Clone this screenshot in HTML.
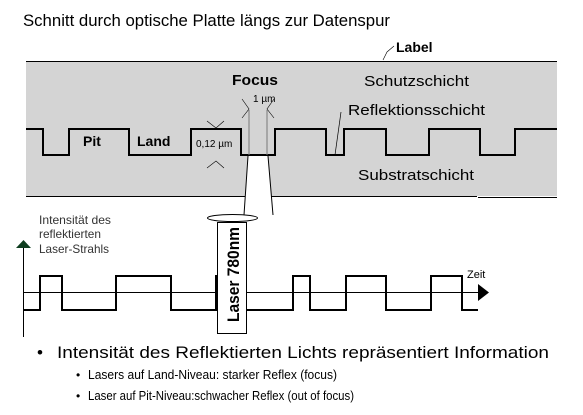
<!DOCTYPE html>
<html><head><meta charset="utf-8"><style>body{margin:0;background:#fff}svg{display:block}</style></head><body>
<svg width="583" height="415" viewBox="0 0 583 415" xmlns="http://www.w3.org/2000/svg" font-family="Liberation Sans, sans-serif">
<text x="23" y="26" font-size="17" textLength="367" lengthAdjust="spacingAndGlyphs">Schnitt durch optische Platte längs zur Datenspur</text>
<rect x="26" y="61" width="531" height="135" fill="#d4d4d4"/>
<line x1="26" y1="61.5" x2="557" y2="61.5" stroke="#000"/>
<line x1="26" y1="196.5" x2="477" y2="196.5" stroke="#000"/>
<line x1="478" y1="197.5" x2="557" y2="197.5" stroke="#000"/>
<text x="396" y="52" font-size="14" font-weight="bold">Label</text>
<path d="M383 60 L387 52 L394 46" stroke="#000" fill="none" stroke-width="0.6"/>
<text x="364" y="86" font-size="15" textLength="105" lengthAdjust="spacingAndGlyphs">Schutzschicht</text>
<text x="348" y="115" font-size="15" textLength="137" lengthAdjust="spacingAndGlyphs">Reflektionsschicht</text>
<path d="M335 155 L341 112" stroke="#000" fill="none" stroke-width="0.7"/>
<text x="358" y="180" font-size="15" textLength="116" lengthAdjust="spacingAndGlyphs">Substratschicht</text>
<text x="232" y="85" font-size="15" font-weight="bold" textLength="46" lengthAdjust="spacingAndGlyphs">Focus</text>
<text x="253" y="102" font-size="10">1 µm</text>
<path d="M242 99 L249 109 L242 118 M274 99 L267 109 L274 118" stroke="#000" fill="none" stroke-width="0.6"/>
<path d="M207 121 L216 128 L224 121 M207 168 L216 161 L224 168" stroke="#000" fill="none" stroke-width="0.6"/>
<text x="196" y="147" font-size="10">0,12 µm</text>
<text x="83" y="146" font-size="14" font-weight="bold">Pit</text>
<text x="137" y="146" font-size="14" font-weight="bold">Land</text>
<path d="M26 129 H43 V155 H69 V129 H129 V155 H191 V129 H241 V155 H275 V129 H326 V155 H344 V129 H386 V155 H429 V129 H480 V155 H515 V129 H557" stroke="#000" stroke-width="2" fill="none"/>
<line x1="249" y1="110" x2="249" y2="155" stroke="#777"/>
<line x1="267" y1="110" x2="267" y2="155" stroke="#777"/>
<path d="M248 156 L268 156 L273 215 L244 215 Z" fill="#fff"/>
<path d="M248 156 L244 215 M268 156 L273 215" stroke="#000" fill="none"/>
<text x="39" y="224" font-size="12" fill="#333" textLength="72" lengthAdjust="spacingAndGlyphs">Intensität des</text>
<text x="39" y="238" font-size="12" fill="#333" textLength="62" lengthAdjust="spacingAndGlyphs">reflektierten</text>
<text x="39" y="253" font-size="12" fill="#333" textLength="70" lengthAdjust="spacingAndGlyphs">Laser-Strahls</text>
<line x1="23.5" y1="246" x2="23.5" y2="337" stroke="#000"/>
<path d="M16 248 L23.5 240 L31 248 Z" fill="#0e3d1f"/>
<line x1="23" y1="292.5" x2="480" y2="292.5" stroke="#000"/>
<path d="M478 284 L489 292.5 L478 301 Z" fill="#000"/>
<text x="467" y="278" font-size="11">Zeit</text>
<path d="M23 310 H40 V276 H62 V310 H116 V276 H171 V310 H216 V276 H217 M246 310 H293 V276 H310 V310 H346 V276 H386 V310 H431 V276 H462 V310 H478" stroke="#000" stroke-width="2" fill="none"/>
<ellipse cx="232.5" cy="218" rx="25" ry="3.5" fill="#fff" stroke="#000"/>
<rect x="217.5" y="222.5" width="29" height="111" fill="#fff" stroke="#000"/>
<text transform="translate(239,322) rotate(-90)" font-size="17" font-weight="bold" textLength="95" lengthAdjust="spacingAndGlyphs">Laser 780nm</text>
<text x="37" y="358" font-size="17">•</text>
<text x="57" y="358" font-size="17" textLength="492" lengthAdjust="spacingAndGlyphs">Intensität des Reflektierten Lichts repräsentiert Information</text>
<text x="76" y="379" font-size="12">•</text>
<text x="88" y="379" font-size="12.5" textLength="249" lengthAdjust="spacingAndGlyphs">Lasers auf Land-Niveau: starker Reflex (focus)</text>
<text x="76" y="400" font-size="12">•</text>
<text x="88" y="400" font-size="12.5" textLength="266" lengthAdjust="spacingAndGlyphs">Laser auf Pit-Niveau:schwacher Reflex (out of focus)</text>
</svg>
</body></html>
